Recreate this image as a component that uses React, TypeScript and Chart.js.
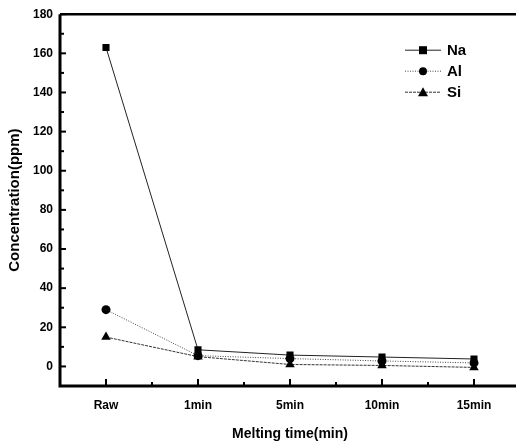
import React, { useEffect, useRef } from "react";
import { Chart, registerables } from "chart.js";

Chart.register(...registerables);

const categories = ["Raw", "1min", "5min", "10min", "15min"];
const naValues = [163, 8.5, 5.8, 4.8, 3.8];
const alValues = [29, 5.5, 4, 2.8, 1.8];
const siValues = [15, 5, 1, 0.5, -0.5];
const yTicks = [0, 20, 40, 60, 80, 100, 120, 140, 160, 180];

const FONT = "'Liberation Sans', Arial, sans-serif";

const framePlugin = {
  id: "frame",
  afterDraw(chart: any) {
    const { ctx, chartArea } = chart;
    const x = chart.scales.x;
    const y = chart.scales.y;
    ctx.save();
    ctx.strokeStyle = "#000";
    ctx.lineWidth = 3;
    ctx.beginPath();
    ctx.moveTo(chartArea.left, chartArea.top);
    ctx.lineTo(chartArea.left, chartArea.bottom);
    ctx.lineTo(chartArea.right + 20, chartArea.bottom);
    ctx.stroke();
    ctx.lineWidth = 2.5;
    ctx.beginPath();
    ctx.moveTo(chartArea.left, chartArea.top);
    ctx.lineTo(chartArea.right + 20, chartArea.top);
    ctx.stroke();
    ctx.lineWidth = 2;
    for (let v = -10; v <= 180; v += 10) {
      const py = y.getPixelForValue(v);
      const len = v % 20 === 0 ? 6 : 4;
      ctx.beginPath();
      ctx.moveTo(chartArea.left, py);
      ctx.lineTo(chartArea.left + len, py);
      ctx.stroke();
    }
    for (let i = 0; i < categories.length; i++) {
      const px = x.getPixelForValue(i);
      ctx.beginPath();
      ctx.moveTo(px, chartArea.bottom);
      ctx.lineTo(px, chartArea.bottom - 7);
      ctx.stroke();
      if (i < categories.length - 1) {
        const pm = x.getPixelForValue(i + 0.5);
        ctx.beginPath();
        ctx.moveTo(pm, chartArea.bottom);
        ctx.lineTo(pm, chartArea.bottom - 4);
        ctx.stroke();
      }
    }
    const lx = chartArea.left + 345;
    const ly0 = chartArea.top + 36;
    chart.data.datasets.forEach((ds: any, i: number) => {
      const ly = ly0 + i * 21;
      ctx.strokeStyle = ds.borderColor;
      ctx.lineWidth = ds.borderWidth;
      ctx.setLineDash(ds.borderDash || []);
      ctx.beginPath();
      ctx.moveTo(lx, ly);
      ctx.lineTo(lx + 36, ly);
      ctx.stroke();
      ctx.setLineDash([]);
      ctx.fillStyle = "#000";
      const cx = lx + 18;
      const r = 4;
      ctx.beginPath();
      if (ds.pointStyle === "rect") {
        ctx.rect(cx - r, ly - r, 2 * r, 2 * r);
      } else if (ds.pointStyle === "circle") {
        ctx.arc(cx, ly, r, 0, Math.PI * 2);
      } else {
        ctx.moveTo(cx, ly - r - 1);
        ctx.lineTo(cx + r + 1, ly + r);
        ctx.lineTo(cx - r - 1, ly + r);
        ctx.closePath();
      }
      ctx.fill();
      ctx.font = `bold 15px ${FONT}`;
      ctx.textBaseline = "middle";
      ctx.textAlign = "left";
      ctx.fillText(ds.label, lx + 42, ly + 1);
    });
    ctx.restore();
  },
};

export default function App() {
  const ref = useRef<HTMLCanvasElement>(null);
  useEffect(() => {
    const chart = new Chart(ref.current!, {
      type: "line",
      data: {
        labels: categories,
        datasets: [
          {
            label: "Na",
            data: naValues,
            borderColor: "#222",
            backgroundColor: "#000",
            borderWidth: 1,
            pointStyle: "rect",
            pointRadius: 5,
            pointBorderWidth: 0,
          },
          {
            label: "Al",
            data: alValues,
            borderColor: "#444",
            backgroundColor: "#000",
            borderWidth: 1,
            borderDash: [1, 1.5],
            pointStyle: "circle",
            pointRadius: 4.5,
            pointBorderWidth: 0,
          },
          {
            label: "Si",
            data: siValues,
            borderColor: "#333",
            backgroundColor: "#000",
            borderWidth: 1,
            borderDash: [3, 1],
            pointStyle: "triangle",
            pointRadius: 5.5,
            pointBorderWidth: 0,
          },
        ],
      },
      options: {
        responsive: false,
        animation: false,
        layout: { padding: { top: 13, right: 10, left: 0, bottom: 0 } },
        plugins: { legend: { display: false }, tooltip: { enabled: false } },
        scales: {
          x: {
            type: "category",
            offset: true,
            grid: { display: false, drawTicks: false },
            border: { display: false },
            ticks: {
              color: "#000",
              padding: 12,
              font: { family: FONT, size: 12, weight: "bold" },
            },
            title: {
              display: true,
              text: "Melting time(min)",
              color: "#000",
              padding: { top: 6, bottom: 0 },
              font: { family: FONT, size: 14, weight: "bold" },
            },
            afterFit(scale: any) {
              scale.height = 57;
            },
          },
          y: {
            min: -10,
            max: 180,
            afterBuildTicks(scale: any) {
              scale.ticks = yTicks.map((v) => ({ value: v }));
            },
            grid: { display: false, drawTicks: false },
            border: { display: false },
            ticks: {
              color: "#000",
              padding: 7,
              font: { family: FONT, size: 12, weight: "bold" },
            },
            title: {
              display: true,
              text: "Concentration(ppm)",
              color: "#000",
              padding: { top: 6, bottom: 4 },
              font: { family: FONT, size: 15, weight: "bold" },
            },
            afterFit(scale: any) {
              scale.width = 60;
            },
          },
        },
      },
      plugins: [framePlugin],
    });
    return () => chart.destroy();
  }, []);
  return (
    <div
      style={{
        position: "fixed",
        left: 0,
        top: 0,
        width: 516,
        height: 443,
        overflow: "hidden",
        background: "#fff",
      }}
    >
      <canvas ref={ref} width={530} height={443} />
    </div>
  );
}
